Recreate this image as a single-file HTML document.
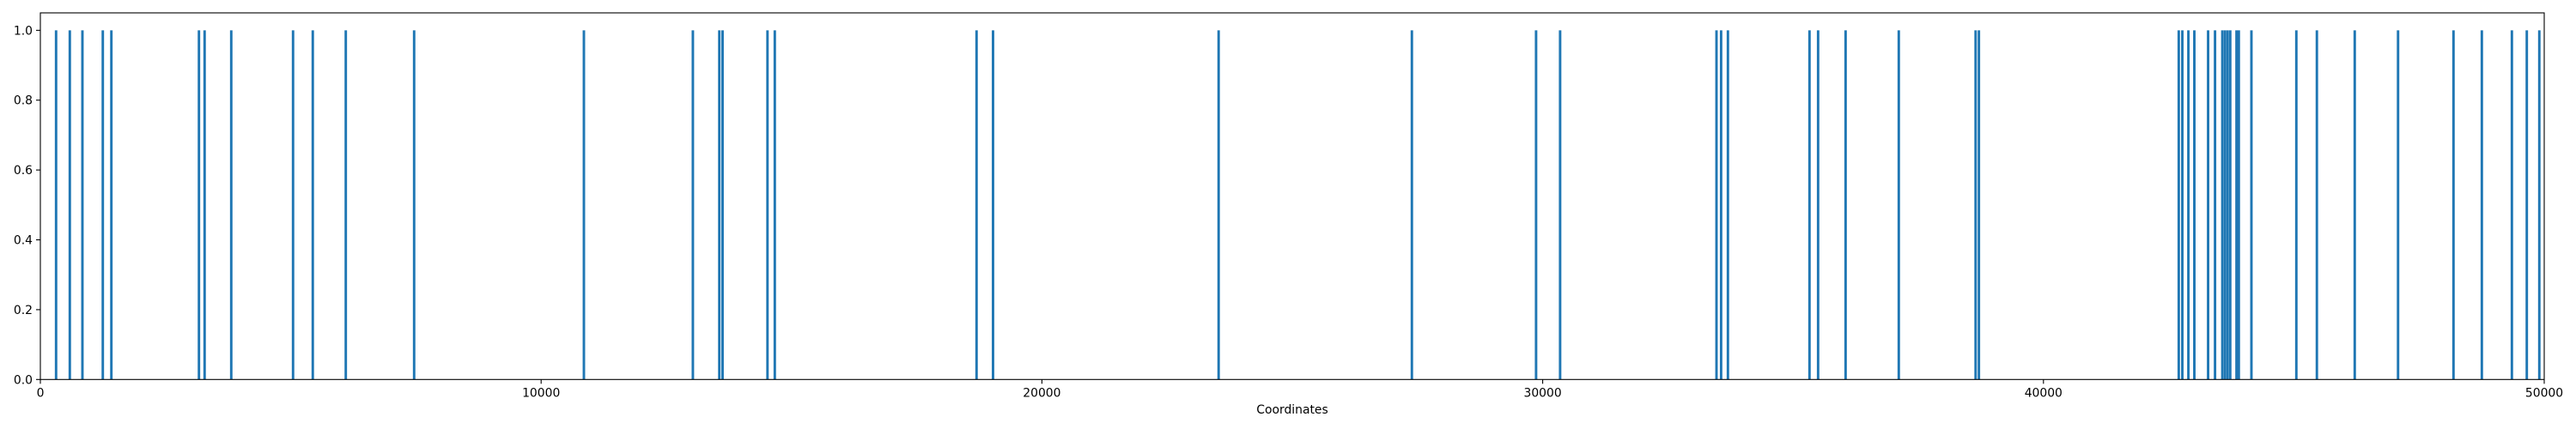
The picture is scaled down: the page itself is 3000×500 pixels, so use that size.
<!DOCTYPE html>
<html><head><meta charset="utf-8"><style>
html,body{margin:0;padding:0;background:#fff;}
svg{display:block;font-family:"DejaVu Sans","Liberation Sans",sans-serif;}
</style></head><body>
<svg id="chart" width="3000" height="500" viewBox="0 0 3000 500" xmlns="http://www.w3.org/2000/svg">
<g id="bars"></g>
<g id="axes"></g>
</svg>
<script>
const positions = [314,588,840,1247,1418,3167,3280,3812,5046,5440,6099,7464,10854,13030,13558,13623,14520,14666,18695,19024,23529,27388,29868,30348,33471,33563,33699,35328,35500,36049,37111,38645,38711,42702,42773,42894,43013,43288,43426,43572,43625,43677,43730,43855,43901,44153,45050,45460,46216,47081,48188,48754,49354,49652,49902];
const heights = positions.map(()=>1);
const xTicks = [0,10000,20000,30000,40000,50000];
const xTickLabels = ["0","10000","20000","30000","40000","50000"];
const yTicks = [0,0.2,0.4,0.6,0.8,1.0];
const yTickLabels = ["0.0","0.2","0.4","0.6","0.8","1.0"];

const L=47,R=2963,T=15,B=442.3;
const xMin=0,xMax=50000,yMin=0,yMax=1.05;
const xs=v=>L+(v-xMin)/(xMax-xMin)*(R-L);
const ys=v=>B-(v-yMin)/(yMax-yMin)*(B-T);
const NS="http://www.w3.org/2000/svg";
function mk(tag,attrs,parent){const e=document.createElementNS(NS,tag);for(const k in attrs)e.setAttribute(k,attrs[k]);parent.appendChild(e);return e;}
const bars=document.getElementById('bars');
const axes=document.getElementById('axes');
const bw=50;
positions.forEach((p,i)=>{
  const x0=xs(p-bw/2),x1=xs(p+bw/2);
  const r=mk('rect',{x:x0,y:ys(heights[i]),width:Math.max(x1-x0,2),height:ys(0)-ys(heights[i]),fill:'#1f77b4'},bars);
  
  
});
const frame=mk('rect',{x:L,y:T,width:R-L,height:B-T,fill:'none',stroke:'#000','stroke-width':1.1},axes);


xTicks.forEach((t,i)=>{
  const x=xs(t);
  const tk=mk('line',{x1:x,x2:x,y1:B,y2:B+5,stroke:'#000','stroke-width':1.1},axes);
  
  
  const tx=mk('text',{x:x,y:B+20,'text-anchor':'middle','font-size':'13.9px',fill:'#000'},axes);
  tx.textContent=xTickLabels[i];
  
  
});
yTicks.forEach((t,i)=>{
  const y=ys(t);
  const tk=mk('line',{x1:L-5,x2:L,y1:y,y2:y,stroke:'#000','stroke-width':1.1},axes);
  
  
  const tx=mk('text',{x:L-9,y:y+5,'text-anchor':'end','font-size':'13.9px',fill:'#000'},axes);
  tx.textContent=yTickLabels[i];
  
  
});
const xl=mk('text',{x:(L+R)/2,y:482,'text-anchor':'middle','font-size':'13.9px',fill:'#000'},axes);
xl.textContent='Coordinates';


</script>
</body></html>
